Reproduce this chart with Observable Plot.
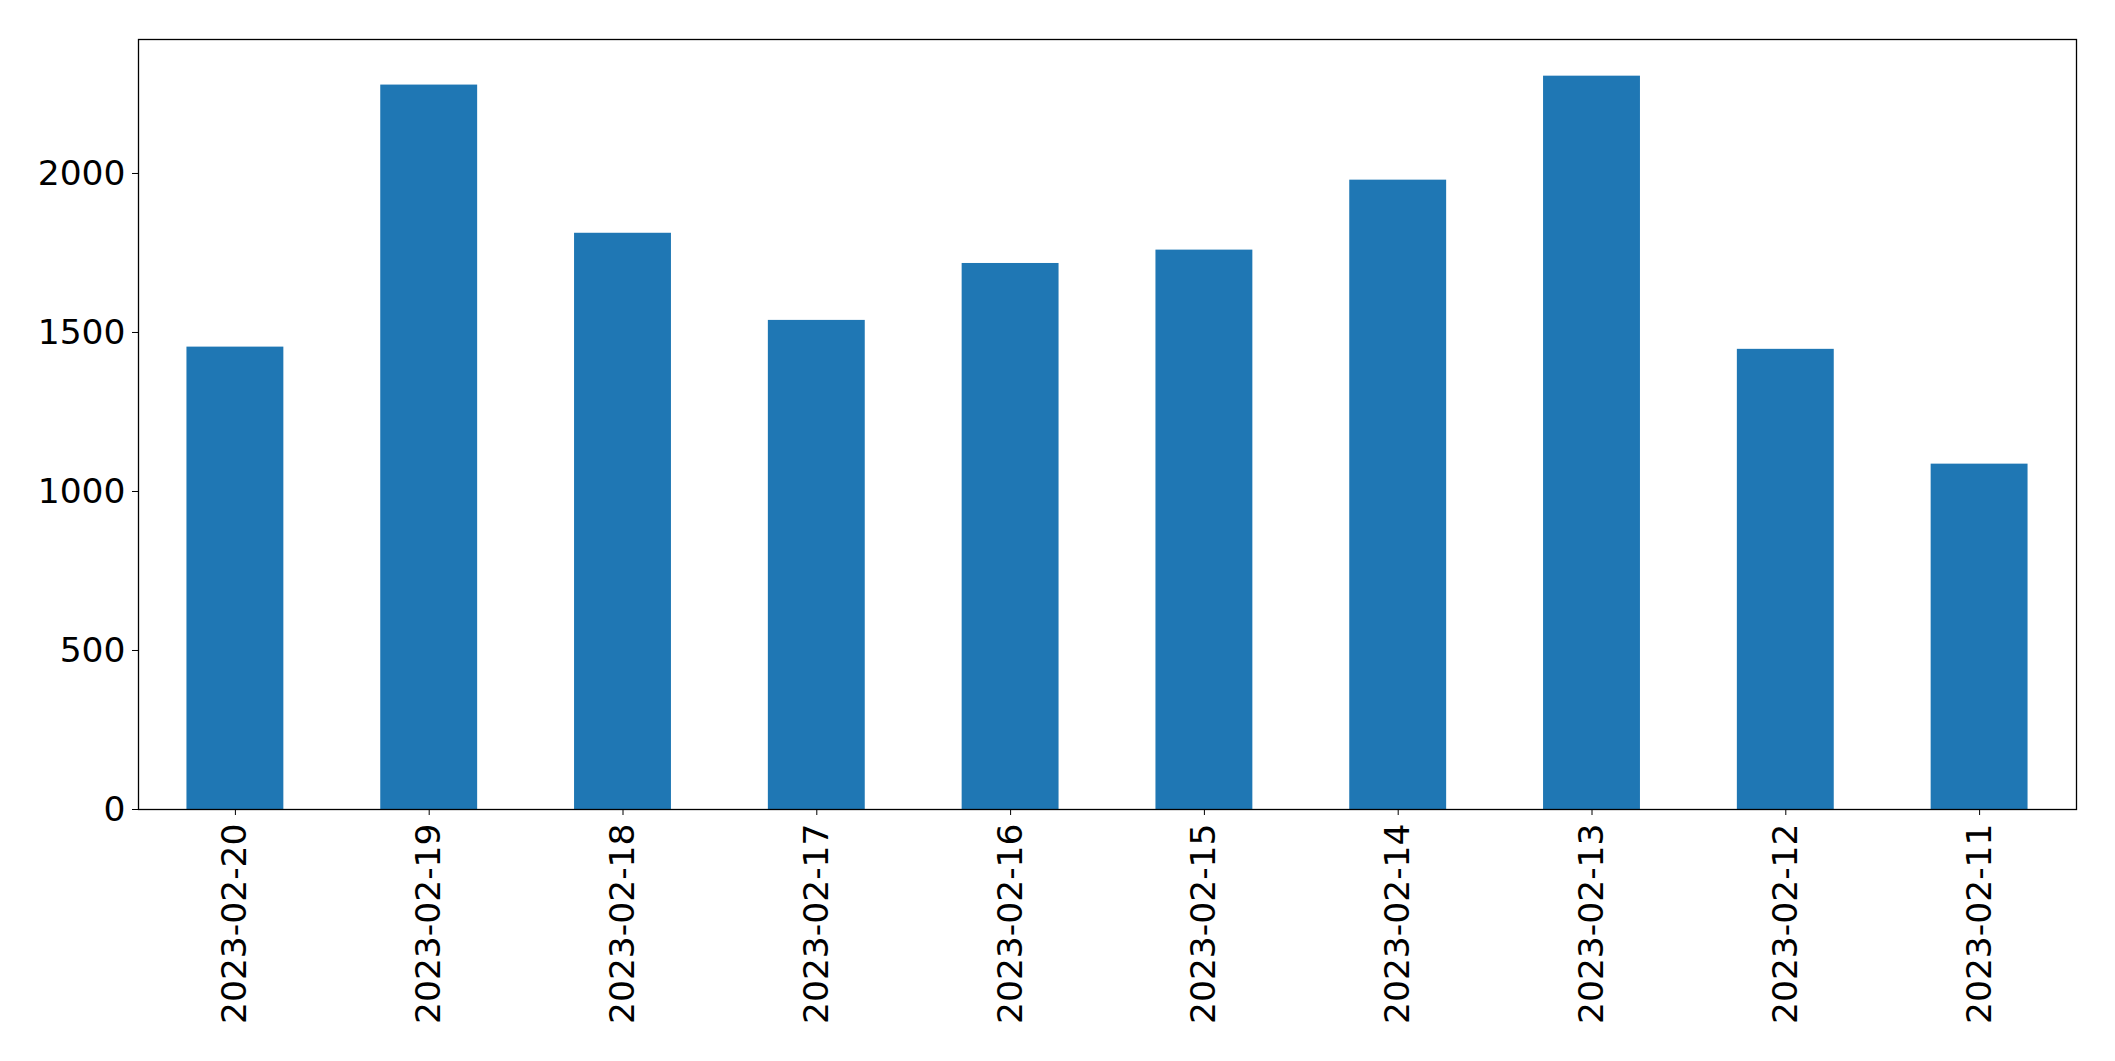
<!DOCTYPE html>
<html>
<head>
<meta charset="utf-8">
<script src="https://cdn.jsdelivr.net/npm/d3@7"></script>
<script src="https://cdn.jsdelivr.net/npm/@observablehq/plot@0.6"></script>
<style>
  html, body { margin: 0; padding: 0; background: #ffffff; }
  #chart svg { display: block; }
</style>
</head>
<body>
<div id="chart"></div>
<script>
const dates = ["2023-02-20", "2023-02-19", "2023-02-18", "2023-02-17", "2023-02-16",
               "2023-02-15", "2023-02-14", "2023-02-13", "2023-02-12", "2023-02-11"];
const counts = [1454, 2278, 1812, 1538, 1717, 1759, 1979, 2306, 1447, 1086];
const yTicks = [0, 500, 1000, 1500, 2000];

const data = dates.map((d, i) => ({date: d, count: counts[i]}));
const yMax = d3.max(counts) * 1.05;

const chart = Plot.plot({
  width: 2115,
  height: 1061,
  marginLeft: 138,
  marginRight: 39,
  marginTop: 39,
  marginBottom: 252,
  style: {
    fontFamily: "'DejaVu Sans', sans-serif",
    fontSize: "34.5px",
    background: "#ffffff",
    color: "#000000"
  },
  x: {type: "band", domain: dates, paddingInner: 0.5, paddingOuter: 0.25, round: false, label: null},
  y: {domain: [0, yMax], label: null},
  marks: [
    Plot.barY(data, {x: "date", y: "count", fill: "#1f77b4"}),
    Plot.axisY({ticks: yTicks, tickFormat: d => String(d), tickSize: 6, tickPadding: 7, label: null, fontSize: 34.5}),
    Plot.axisX({tickSize: 6, tickPadding: 8, tickRotate: -90, label: null, fontSize: 34.5}),
    Plot.frame({stroke: "#000000", strokeWidth: 1.3})
  ]
});
document.getElementById("chart").appendChild(chart);
</script>
</body>
</html>
